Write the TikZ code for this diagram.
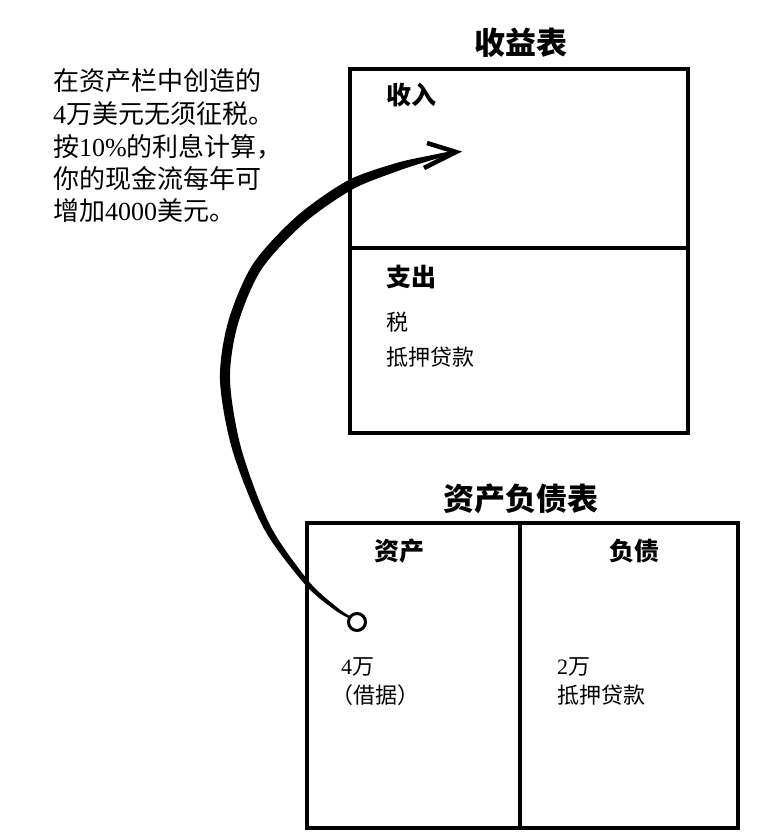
\documentclass[tikz,border=0pt]{standalone}
\usepackage{fontspec}
\setmainfont{Noto Sans CJK SC}
\newfontfamily\lat{Liberation Serif}
\begin{document}
\begin{tikzpicture}[x=1pt,y=-1pt,
  boxline/.style={line width=4pt, line join=miter},
  title/.style={anchor=base, inner sep=0pt, font=\fontsize{31}{31}\selectfont\bfseries},
  head/.style={anchor=base west, inner sep=0pt, font=\fontsize{25}{25}\selectfont\bfseries},
  headc/.style={anchor=base, inner sep=0pt, font=\fontsize{25}{25}\selectfont\bfseries},
  body/.style={anchor=base west, inner sep=0pt, font=\fontsize{22}{22}\selectfont},
  note/.style={anchor=base west, inner sep=0pt, font=\fontsize{26}{26}\selectfont}]
\useasboundingbox (0,0) rectangle (765,839);
\fill[white] (0,0) rectangle (765,839);

% income statement
\node[title] (ist) at (521,54) {收益表};
\node[draw, boxline, minimum width=338pt, minimum height=364pt, anchor=north west, inner sep=0pt] (inc) at (348,67) {};
\coordinate (incdl) at (348,248);
\coordinate (incdr) at (686,248);
\draw[boxline] (incdl) -- (incdr);
\node[head] (shouru) at (386,104.5) {收入};
\node[head] (zhichu) at (386,286.5) {支出};
\node[body] (shui) at (386,330.4) {税};
\node[body] (diya1) at (386,365.4) {抵押贷款};

% balance sheet
\node[title] (bst) at (521,510) {资产负债表};
\node[draw, boxline, minimum width=431pt, minimum height=305pt, anchor=north west, inner sep=0pt] (bal) at (305,521) {};
\coordinate (baldt) at (520,521);
\coordinate (baldb) at (520,826);
\draw[boxline] (baldt) -- (baldb);
\node[headc] (zichan) at (399,560.5) {资产};
\node[headc] (fuzhai) at (634,560.5) {负债};
\node[body] (siwan) at (341,674.5) {{\lat 4}万};
\node[body] (jieju) at (331,703.5) {（借据）};
\node[body] (erwan) at (557,674.5) {{\lat 2}万};
\node[body] (diya2) at (557,703.5) {抵押贷款};

% note text
\node[note] (n1) at (53,90.5) {在资产栏中创造的};
\node[note] (n2) at (53,123.5) {{\lat 4}万美元无须征税。};
\node[note] (n3) at (53,156.5) {按{\lat 10\%}的利息计算，};
\node[note] (n4) at (53,188.5) {你的现金流每年可};
\node[note] (n5) at (53,220.5) {增加{\lat 4000}美元。};

% arrow
\node[circle, draw, line width=3pt, minimum size=17pt, inner sep=0pt] (dot) at (357,622) {};
\fill plot[smooth] coordinates {(454.7,150.5) (429.4,155.6) (395.7,163.2) (347.6,180.6) (296.7,216.25) (252.8,264.3) (228.2,321.6) (220.0,380.2) (232.7,451.2) (263.9,528.6) (305.1,584.6) (333.9,609.4) (348.4,618.0)}
  -- plot[smooth] coordinates {(349.6,616.0) (336.1,606.6) (308.9,581.4) (270.1,525.4) (241.3,448.8) (230.0,379.8) (237.8,324.4) (261.2,269.7) (303.3,223.75) (352.4,189.4) (398.3,170.8) (430.6,160.4) (455.3,153.5)} -- cycle;
\coordinate (tip) at (456,152);
\coordinate (barbu) at (427,143);
\coordinate (barbl) at (424,168);
\draw[line width=4.5pt, line join=miter, miter limit=3] (barbu) -- (tip) -- (barbl);
\end{tikzpicture}
\end{document}
